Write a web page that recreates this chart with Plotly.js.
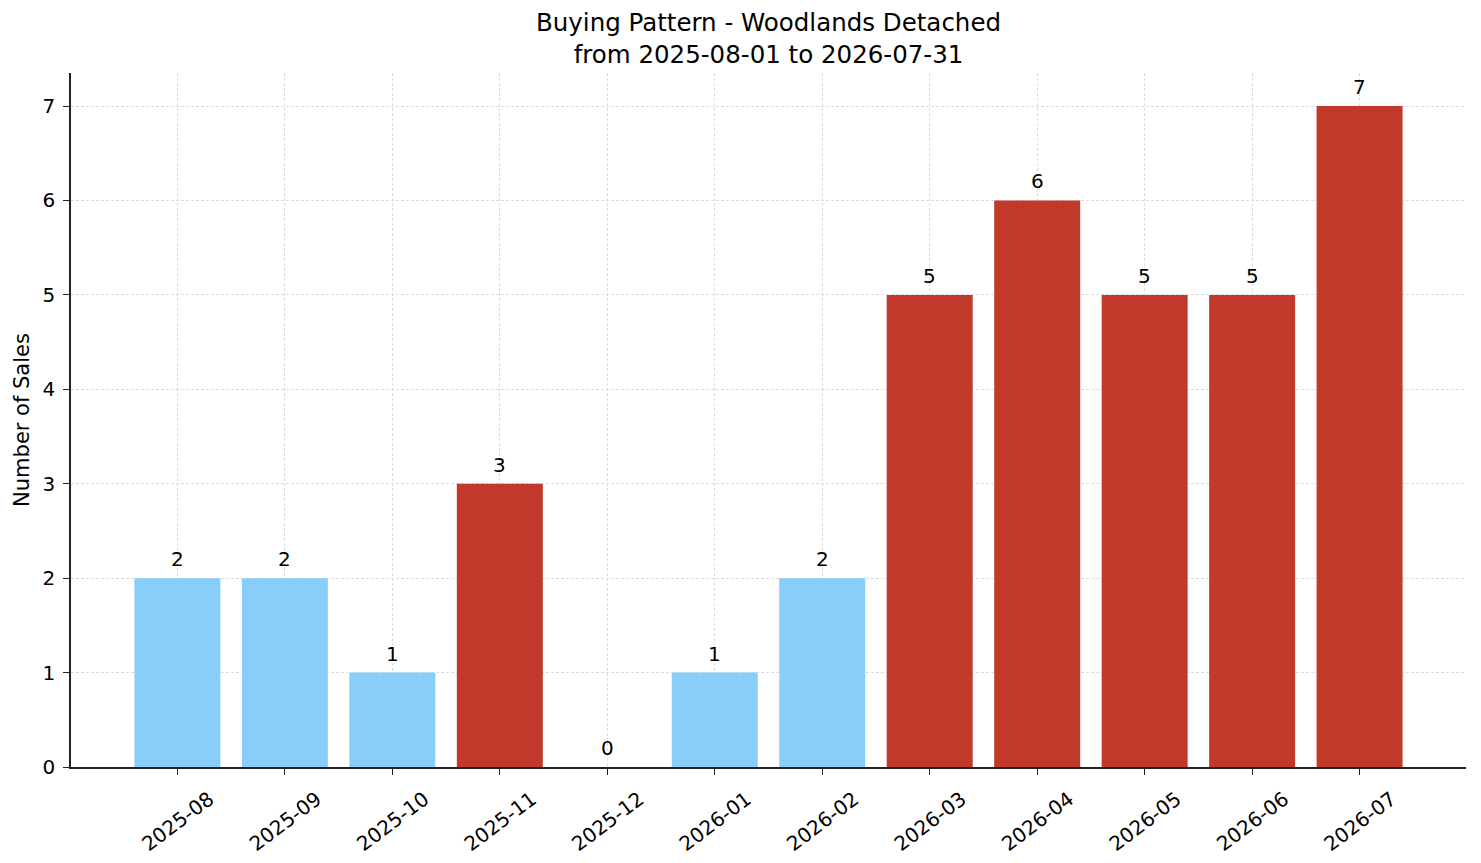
<!DOCTYPE html>
<html>
<head>
<meta charset="utf-8">
<script src="https://cdn.plot.ly/plotly-3.0.1.min.js"></script>
<style>
  html, body { margin: 0; padding: 0; background: #ffffff; }
  #chart { width: 1481px; height: 863px; }
</style>
</head>
<body>
<div id="chart"></div>
<script>
// Monthly sales counts
const months = [
    '2025-08', '2025-09', '2025-10', '2025-11', '2025-12', '2026-01',
    '2026-02', '2026-03', '2026-04', '2026-05', '2026-06', '2026-07'
];
const sales = [2, 2, 1, 3, 0, 1, 2, 5, 6, 5, 5, 7];
const yTicks = [0, 1, 2, 3, 4, 5, 6, 7];

const hotColor = '#c0392b';
const coldColor = '#87cefa';

// Months above the median are drawn hot
const sorted = [...sales].sort((a, b) => a - b);
const mid = sorted.length / 2;
const median = (sorted[mid - 1] + sorted[mid]) / 2;
const barColors = sales.map(v => v > median ? hotColor : coldColor);

const font = 'DejaVu Sans, sans-serif';

const trace = {
    type: 'bar',
    x: months,
    y: sales,
    width: 0.8,
    marker: { color: barColors, line: { width: 0 } },
    hoverinfo: 'x+y'
};

// Value labels above each bar
const annotations = months.map((m, i) => ({
    x: m,
    y: sales[i],
    text: String(sales[i]),
    showarrow: false,
    xanchor: 'center',
    yanchor: 'bottom',
    yshift: 5,
    font: { family: font, size: 20, color: '#000' }
}));

const layout = {
    width: 1481,
    height: 863,
    paper_bgcolor: '#ffffff',
    plot_bgcolor: '#ffffff',
    font: { family: font, size: 20, color: '#000' },
    margin: { l: 71, r: 15, t: 73, b: 96 },
    showlegend: false,
    bargap: 0.2,
    title: {
        text: 'Buying Pattern - Woodlands Detached<br>from 2025-08-01 to 2026-07-31',
        font: { family: font, size: 24.5, color: '#000' },
        x: 0.5,
        xref: 'paper',
        y: 0.964,
        yref: 'container',
        yanchor: 'top'
    },
    xaxis: {
        type: 'category',
        range: [-0.99, 11.99],
        showline: true,
        linecolor: '#222',
        linewidth: 1.5,
        ticks: 'outside',
        ticklen: 6,
        tickwidth: 1.2,
        tickcolor: '#222',
        tickangle: -37,
        ticklabelshift: 32,
        ticklabelstandoff: 5,
        tickfont: { family: font, size: 20, color: '#000' },
        showgrid: true,
        gridcolor: '#dcdcdc',
        griddash: '3px,2px',
        gridwidth: 0.8,
        zeroline: false
    },
    yaxis: {
        range: [0, 7.35],
        tickvals: yTicks,
        showline: true,
        linecolor: '#222',
        linewidth: 1.5,
        ticks: 'outside',
        ticklen: 6,
        tickwidth: 1.2,
        tickcolor: '#222',
        ticklabelstandoff: 4,
        tickfont: { family: font, size: 20, color: '#000' },
        showgrid: true,
        gridcolor: '#dcdcdc',
        griddash: '3px,2px',
        gridwidth: 0.8,
        zeroline: false,
        title: {
            text: 'Number of Sales',
            font: { family: font, size: 21, color: '#000' },
            standoff: 7
        }
    },
    annotations: annotations
};

Plotly.newPlot('chart', [trace], layout, { displayModeBar: false, responsive: false });
</script>
</body>
</html>
